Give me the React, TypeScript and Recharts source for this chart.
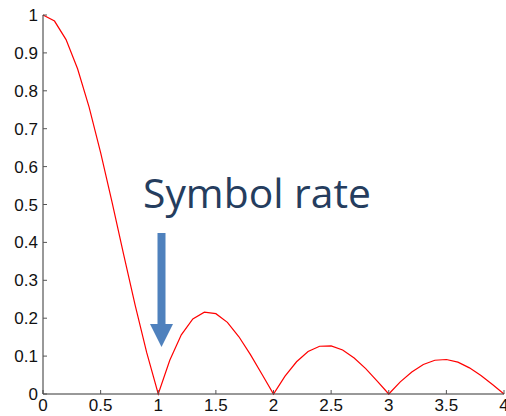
import { LineChart, Line, XAxis, YAxis } from "recharts";

// normalised spectrum magnitude, sampled every 0.1 of the symbol rate
const freq = [
  0, 0.1, 0.2, 0.3, 0.4, 0.5, 0.6, 0.7, 0.8, 0.9, 1, 1.1, 1.2, 1.3, 1.4, 1.5,
  1.6, 1.7, 1.8, 1.9, 2, 2.1, 2.2, 2.3, 2.4, 2.5, 2.6, 2.7, 2.8, 2.9, 3, 3.1,
  3.2, 3.3, 3.4, 3.5, 3.6, 3.7, 3.8, 3.9, 4,
];
const magnitude = [
  1, 0.984, 0.935, 0.858, 0.757, 0.637, 0.505, 0.368, 0.234, 0.109, 0, 0.089,
  0.156, 0.198, 0.216, 0.212, 0.189, 0.151, 0.104, 0.052, 0, 0.047, 0.085,
  0.112, 0.126, 0.127, 0.116, 0.095, 0.067, 0.034, 0, 0.032, 0.058, 0.078,
  0.089, 0.091, 0.084, 0.069, 0.049, 0.025, 0,
];
const xTicks = [0, 0.5, 1, 1.5, 2, 2.5, 3, 3.5, 4];
const yTicks = [0, 0.1, 0.2, 0.3, 0.4, 0.5, 0.6, 0.7, 0.8, 0.9, 1];

const data = freq.map((f, i) => ({ f, v: magnitude[i] }));

const tickFont = { fontSize: 17, fill: "#111", fontFamily: "Liberation Sans, Arial" };
const blank = () => "";

export default function App() {
  return (
    <div style={{ position: "absolute", left: 0, top: 0, width: 506, height: 416, background: "#fff" }}>
      <LineChart width={506} height={416} data={data} margin={{ top: 15, right: 2, bottom: 0, left: 0 }}>
        <XAxis
          dataKey="f"
          type="number"
          domain={[0, 4]}
          ticks={xTicks}
          interval={0}
          height={22}
          tickSize={-4}
          tickMargin={9}
          tick={tickFont}
          stroke="#333"
          tickLine={{ stroke: "#555" }}
        />
        <XAxis
          xAxisId="top"
          orientation="top"
          type="number"
          domain={[0, 4]}
          ticks={xTicks}
          interval={0}
          height={0}
          tickSize={-4}
          tickFormatter={blank}
          stroke="#777"
        />
        <YAxis
          type="number"
          domain={[0, 1]}
          ticks={yTicks}
          interval={0}
          width={43}
          tickSize={-4}
          tickMargin={9}
          tick={tickFont}
          stroke="#333"
          tickLine={{ stroke: "#555" }}
        />
        <YAxis
          yAxisId="right"
          orientation="right"
          type="number"
          domain={[0, 1]}
          ticks={yTicks}
          interval={0}
          width={0}
          tickSize={-4}
          tickFormatter={blank}
          stroke="#666"
        />
        <Line
          type="linear"
          dataKey="v"
          stroke="#ff0000"
          strokeWidth={1.2}
          dot={false}
          isAnimationActive={false}
        />
      </LineChart>
      <svg width={506} height={416} style={{ position: "absolute", left: 0, top: 0, pointerEvents: "none" }}>
        <text
          x={143}
          y={208}
          fontSize={40}
          fill="#253d5e"
          fontFamily="Open Sans"
          textLength={228}
          lengthAdjust="spacingAndGlyphs"
        >
          Symbol rate
        </text>
        <polygon points="157.5,233 165.5,233 165.5,324 173,324 161.5,347 150,324 157.5,324" fill="#4f81bd" />
      </svg>
    </div>
  );
}
